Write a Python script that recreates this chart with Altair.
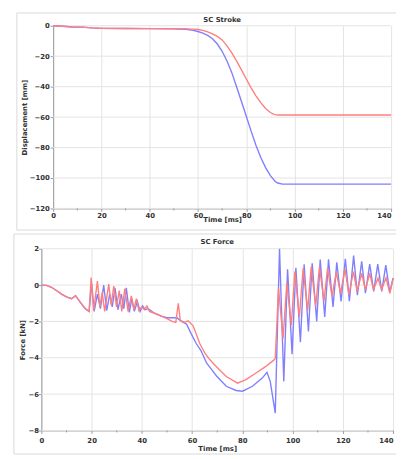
import altair as alt
import pandas as pd

# ---------------- data ----------------
stroke_t_red = [0, 4, 8, 12, 16, 20, 30, 40, 50, 55, 58, 60, 62, 64, 66, 68, 70, 72, 74, 76,
                78, 80, 82, 84, 86, 88, 90, 91, 92, 93, 95, 100, 110, 120, 130, 140]
stroke_v_red = [0, -0.3, -0.8, -0.9, -1.4, -1.7, -1.8, -1.9, -2.0, -2.1, -2.2, -2.5, -3.0, -4.0,
                -5.3, -7.0, -9.3, -13.2, -17.8, -23.2, -29.0, -35.0, -40.8, -46.0, -50.5, -54.3,
                -57.0, -57.9, -58.4, -58.6, -58.6, -58.6, -58.6, -58.6, -58.6, -58.6]

stroke_t_blue = [0, 4, 8, 12, 16, 20, 30, 40, 50, 55, 58, 60, 62, 64, 66, 68, 70, 72, 74, 76,
                 78, 80, 82, 84, 86, 88, 90, 92, 93, 95, 100, 110, 120, 130, 140]
stroke_v_blue = [0, -0.3, -0.8, -0.9, -1.4, -1.7, -1.8, -1.9, -2.0, -2.3, -3.0, -3.8, -4.8, -6.3,
                 -8.5, -12.0, -16.8, -23.2, -30.8, -40.2, -49.8, -59.5, -69.2, -78.5, -86.5, -93.2,
                 -98.5, -102.3, -103.3, -104.0, -104.0, -104.0, -104.0, -104.0, -104.0]

force_t_red = [0, 2, 4, 6, 8, 10, 12, 13.6, 15.5, 17.5,
               19.0, 19.8, 20.8, 22.3, 23.3, 24.2, 25.2, 26.8, 27.8, 28.8,
               29.9, 31.0, 32.0, 33.2, 34.5, 35.8, 36.8, 37.8, 38.8, 40.0,
               41.0, 42.0, 43.0, 45, 48, 50, 52, 53.5, 54.5, 55.3,
               57.1, 58.4, 60.4, 63, 65.1, 67, 69.7, 73.6, 78.1, 81.4,
               85.3, 89.2, 92.5, 93.1, 94.4, 96.2, 97.7, 99.5, 100.9, 102.7,
               104.2, 106.0, 107.4, 109.2, 110.7, 112.5, 113.9, 115.7, 117.4, 119.1,
               120.9, 122.4, 124.2, 125.7, 127.5, 129.0, 130.7, 132.2, 134.0, 135.4,
               137.2, 138.7, 140]
force_v_red = [0, -0.02, -0.12, -0.3, -0.5, -0.65, -0.75, -0.58, -0.95, -1.3,
               -1.45, 0.42, -1.4, 0.22, -1.2, -0.4, -1.45, 0.05, -1.1, -0.05,
               -1.2, -0.3, -1.45, -0.2, -1.45, -0.6, -1.35, -0.75, -1.4, -1.2,
               -1.35, -1.15, -1.45, -1.55, -1.72, -1.85, -2.0, -2.05, -1.0, -1.95,
               -2.05, -1.97, -2.24, -3.2, -3.75, -4.1, -4.49, -5.03, -5.4, -5.2,
               -4.85, -4.49, -4.13, -4.04, -0.16, -2.95, 0.11, -2.2, 0.74, -1.75,
               0.92, -1.39, 1.0, -1.15, 1.0, -0.88, 0.92, -0.61, 0.7, -0.45,
               0.86, -0.52, 0.74, -0.34, 0.65, -0.25, 0.65, -0.25, 0.38, -0.25,
               0.4, -0.45, 0.35]

force_t_blue = [0, 2, 4, 6, 8, 10, 12, 13.6, 15.5, 17.5,
                19.0, 20.0, 21.0, 22.3, 23.5, 24.8, 26.0, 27.2, 28.2, 29.3,
                30.5, 31.8, 32.8, 33.8, 35.0, 36.0, 37.0, 38.2, 39.3, 40.3,
                41.3, 42.5, 45, 48, 50, 52, 53.9, 55.8, 57.8, 59.7,
                61.7, 63.5, 65.8, 67.5, 69.7, 73.6, 77.5, 80.1, 84.0, 87.9,
                89.8, 91.1, 93.1, 94.8, 96.5, 98.0, 99.8, 101.3, 103.1, 104.6,
                106.3, 107.8, 109.6, 111.0, 112.8, 114.3, 116.1, 117.6, 119.3, 121.0,
                122.6, 124.3, 125.8, 127.5, 129.0, 130.7, 132.3, 133.9, 135.5, 137.1,
                138.7, 140]
force_v_blue = [0, -0.02, -0.12, -0.3, -0.5, -0.65, -0.75, -0.58, -0.95, -1.3,
                -1.45, 0.1, -1.45, -0.5, -1.3, 0.0, -1.4, -0.5, -1.2, -0.15,
                -1.35, -0.5, -1.3, -0.15, -1.5, -0.75, -1.45, -0.9, -1.45, -1.15,
                -1.35, -1.3, -1.55, -1.72, -1.8, -1.8, -1.8, -2.0, -2.15, -2.7,
                -3.23, -3.6, -4.3, -4.6, -5.0, -5.57, -5.8, -5.84, -5.57, -5.12,
                -4.8, -5.3, -7.05, 2.0, -5.3, 0.87, -3.8, 0.95, -3.15, 1.15,
                -2.55, 1.2, -2.0, 1.4, -1.75, 1.42, -1.2, 1.25, -0.9, 1.45,
                -0.88, 1.62, -0.55, 1.3, -0.45, 1.15, -0.35, 1.15, -0.35, 1.1,
                -0.4, 0.4]

time_ticks = [0, 20, 40, 60, 80, 100, 120, 140]
time_minor = [10, 30, 50, 70, 90, 110, 130]
stroke_ticks = [-120, -100, -80, -60, -40, -20, 0]
force_ticks = [-8, -6, -4, -2, 0, 2]
panel_titles = ["SC Stroke", "SC Force"]

RED = "#ff7f7f"
BLUE = "#7f7fff"
FONT = "DejaVu Sans"
TXT = "#333333"
FRAME = "#d9d9d9"
GRID = "#e3e3e3"
AXIS = "#999999"


def frame_layers(left, right, top, bottom):
    one = pd.DataFrame({"k": [0]})
    base = alt.Chart(one)
    return [
        base.mark_rule(color=FRAME, strokeWidth=1).encode(
            x=alt.value(left), y=alt.value(top), y2=alt.value(bottom)),
        base.mark_rule(color=FRAME, strokeWidth=1).encode(
            x=alt.value(left), x2=alt.value(right), y=alt.value(top)),
        base.mark_rule(color=FRAME, strokeWidth=1).encode(
            x=alt.value(left), x2=alt.value(right), y=alt.value(bottom)),
    ]


last_right = {"condition": {"test": "datum.value === 140", "value": "right"}, "value": "center"}


def panel(t_blue, v_blue, t_red, v_red, ydom, yticks, ytitle, title, w, h,
          x0, ytitle_x, xtitle_y, xlabpad, ylabpad, frame, title_y):
    xscale = alt.Scale(domain=[0, 140], nice=False, range=[x0, w])
    x = alt.X("t:Q", scale=xscale,
              axis=alt.Axis(values=time_ticks, title="Time [ms]", titleY=xtitle_y,
                            titleBaseline="middle", tickSize=3, labelPadding=xlabpad,
                            labelAlign=last_right))
    y = alt.Y("v:Q", scale=alt.Scale(domain=ydom, nice=False),
              axis=alt.Axis(values=yticks, title=ytitle, titleX=ytitle_x,
                            titleBaseline="middle", tickSize=3, labelPadding=ylabpad,
                            grid=False, offset=-x0))
    hgrid = alt.Chart(pd.DataFrame({"v": yticks})).mark_rule(
        color=GRID, strokeWidth=1).encode(y=y, x=alt.value(x0), x2=alt.value(w))
    minor = alt.Chart(pd.DataFrame({"t": time_minor})).mark_rule(
        color=AXIS, strokeWidth=1).encode(x=x, y=alt.value(h), y2=alt.value(h + 2))
    blue = alt.Chart(pd.DataFrame({"t": t_blue, "v": v_blue})).mark_line(
        color=BLUE, strokeWidth=1.4).encode(x=x, y=y)
    red = alt.Chart(pd.DataFrame({"t": t_red, "v": v_red})).mark_line(
        color=RED, strokeWidth=1.4).encode(x=x, y=y)
    ttl = alt.Chart(pd.DataFrame({"s": [title]})).mark_text(
        font=FONT, fontSize=7, fontWeight="bold", color=TXT, baseline="middle",
        align="center").encode(text="s:N", x=alt.value((x0 + w) / 2), y=alt.value(title_y))
    return alt.layer(*frame, hgrid, minor, blue, red, ttl).properties(width=w, height=h)


# both panels share the same group origin (x = 42 px in the picture);
# the upper plot starts 12 px further right
top = panel(stroke_t_blue, stroke_v_blue, stroke_t_red, stroke_v_red,
            [-120, 0], stroke_ticks, "Displacement [mm]", panel_titles[0], 356, 186,
            12, -29, 11, 0, 1, frame_layers(-25, 361, -13, 208), -6)
bottom = panel(force_t_blue, force_v_blue, force_t_red, force_v_red,
               [-8, 2], force_ticks, "Force [kN]", panel_titles[1], 358, 185,
               0, -19, 18.5, 3, 0, frame_layers(-28, 361, -15, 209), -7)

chart = alt.concat(top, bottom, columns=1, spacing=2).properties(
    padding={"left": 5, "top": 0, "right": 0, "bottom": 0},
).configure_view(strokeWidth=0).configure_axis(
    labelFont=FONT, labelFontSize=7, labelFontWeight="bold", labelColor=TXT,
    titleFont=FONT, titleFontSize=7, titleFontWeight="bold", titleColor=TXT,
    gridColor=GRID, gridWidth=1, domainColor=AXIS, tickColor=AXIS,
)

chart.save("out.html", embed_options={"renderer": "svg", "actions": False})
